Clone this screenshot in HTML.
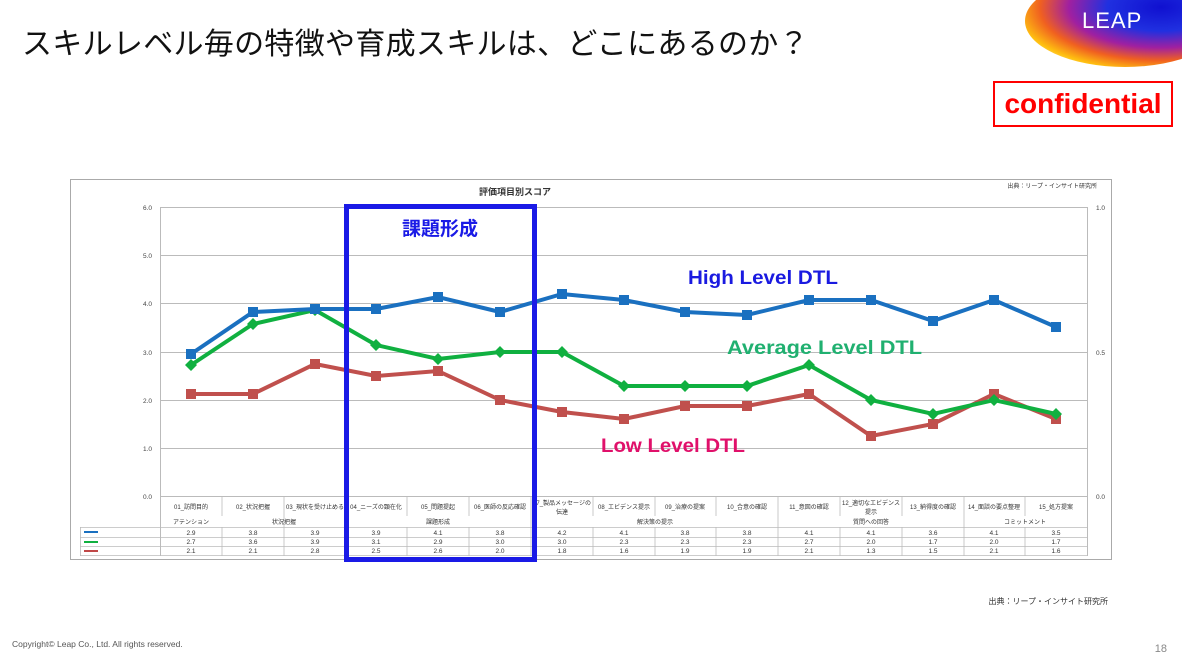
<!DOCTYPE html>
<html><head><meta charset="utf-8"><style>
body{margin:0;width:1182px;height:663px;background:#fff;overflow:hidden;position:relative;font-family:"Liberation Sans","Noto Sans CJK JP",sans-serif}
</style></head><body>
<div style="position:absolute;left:22px;top:19px;font-size:30px;color:#111;letter-spacing:0.3px;font-family:'Liberation Sans','Noto Sans CJK JP',sans-serif">スキルレベル毎の特徴や育成スキルは、どこにあるのか？</div>
<div style="position:absolute;left:1025px;top:-25px;width:200px;height:92px;border-radius:50%;background:radial-gradient(ellipse at 68% 35%,#1010d0 0%,#2030e0 28%,#a020a0 48%,#f06020 63%,#ffc010 76%,rgba(255,255,255,0) 92%)"></div>
<div style="position:absolute;left:1082px;top:8px;font-size:22px;color:#fff;letter-spacing:1px">LEAP</div>
<div style="position:absolute;left:993px;top:81px;width:180px;height:46px;border:2px solid #f00;box-sizing:border-box;color:#f00;font-weight:bold;font-size:28px;text-align:center;line-height:42px">confidential</div>
<svg style="position:absolute;left:0;top:0" width="1182" height="663" font-family="Liberation Sans, Noto Sans CJK JP, sans-serif">
<rect x="70.5" y="179.5" width="1041" height="380" fill="#fff" stroke="#aaa"/>
<text x="515" y="195" font-size="9" font-weight="bold" text-anchor="middle" fill="#333">評価項目別スコア</text>
<text x="1097" y="188" font-size="6" text-anchor="end" fill="#333">出典：リープ・インサイト研究所</text>
<g stroke="#bbb" stroke-width="1">
<line x1="160" y1="207.5" x2="1087" y2="207.5"/><line x1="160" y1="255.5" x2="1087" y2="255.5"/><line x1="160" y1="303.5" x2="1087" y2="303.5"/><line x1="160" y1="352.5" x2="1087" y2="352.5"/><line x1="160" y1="400.5" x2="1087" y2="400.5"/><line x1="160" y1="448.5" x2="1087" y2="448.5"/><line x1="160" y1="496.5" x2="1087" y2="496.5"/>
<line x1="160.5" y1="207" x2="160.5" y2="556"/><line x1="1087.5" y1="207" x2="1087.5" y2="556"/>
</g>
<g font-size="6.5" fill="#444" text-anchor="end">
<text x="152" y="210">6.0</text><text x="152" y="258">5.0</text><text x="152" y="306">4.0</text><text x="152" y="355">3.0</text><text x="152" y="403">2.0</text><text x="152" y="451">1.0</text><text x="152" y="499">0.0</text>
</g>
<g font-size="6.5" fill="#444"><text x="1096" y="210">1.0</text><text x="1096" y="355">0.5</text><text x="1096" y="499">0.0</text></g>
<g stroke="#bbb" stroke-width="0.8" fill="none">
<line x1="80" y1="527.5" x2="1087" y2="527.5"/><line x1="80" y1="537.5" x2="1087" y2="537.5"/><line x1="80" y1="546.5" x2="1087" y2="546.5"/><line x1="80" y1="555.5" x2="1087" y2="555.5"/>
<line x1="80.5" y1="527" x2="80.5" y2="556"/>
<path d="M222 497v19M284 497v30M346 497v19M407 497v19M469 497v19M531 497v30M593 497v19M655 497v19M716 497v19M778 497v30M840 497v19M902 497v19M964 497v30M1025 497v19"/>
<path d="M222 527v29M284 527v29M346 527v29M407 527v29M469 527v29M531 527v29M593 527v29M655 527v29M716 527v29M778 527v29M840 527v29M902 527v29M964 527v29M1025 527v29"/>
</g>
<g font-size="6" fill="#333" text-anchor="middle">
<text x="191" y="509">01_訪問目的</text><text x="253" y="509">02_状況把握</text><text x="315" y="509">03_現状を受け止める</text><text x="376" y="509">04_ニーズの顕在化</text><text x="438" y="509">05_問題提起</text><text x="500" y="509">06_医師の反応確認</text><text x="562" y="505">07_製品メッセージの</text><text x="562" y="514">伝達</text><text x="624" y="509">08_エビデンス提示</text><text x="685" y="509">09_治療の提案</text><text x="747" y="509">10_合意の確認</text><text x="809" y="509">11_意図の確認</text><text x="871" y="505">12_適切なエビデンス</text><text x="871" y="514">提示</text><text x="933" y="509">13_納得度の確認</text><text x="994" y="509">14_面談の要点整理</text><text x="1056" y="509">15_処方提案</text>
<text x="191" y="524">アテンション</text><text x="284" y="524">状況把握</text><text x="438" y="524">課題形成</text><text x="655" y="524">解決策の提示</text><text x="871" y="524">質問への回答</text><text x="1025" y="524">コミットメント</text>
</g>
<g font-size="6.5" fill="#333" text-anchor="middle">
<text y="535"><tspan x="191">2.9</tspan><tspan x="253">3.8</tspan><tspan x="315">3.9</tspan><tspan x="376">3.9</tspan><tspan x="438">4.1</tspan><tspan x="500">3.8</tspan><tspan x="562">4.2</tspan><tspan x="624">4.1</tspan><tspan x="685">3.8</tspan><tspan x="747">3.8</tspan><tspan x="809">4.1</tspan><tspan x="871">4.1</tspan><tspan x="933">3.6</tspan><tspan x="994">4.1</tspan><tspan x="1056">3.5</tspan></text>
<text y="544"><tspan x="191">2.7</tspan><tspan x="253">3.6</tspan><tspan x="315">3.9</tspan><tspan x="376">3.1</tspan><tspan x="438">2.9</tspan><tspan x="500">3.0</tspan><tspan x="562">3.0</tspan><tspan x="624">2.3</tspan><tspan x="685">2.3</tspan><tspan x="747">2.3</tspan><tspan x="809">2.7</tspan><tspan x="871">2.0</tspan><tspan x="933">1.7</tspan><tspan x="994">2.0</tspan><tspan x="1056">1.7</tspan></text>
<text y="553"><tspan x="191">2.1</tspan><tspan x="253">2.1</tspan><tspan x="315">2.8</tspan><tspan x="376">2.5</tspan><tspan x="438">2.6</tspan><tspan x="500">2.0</tspan><tspan x="562">1.8</tspan><tspan x="624">1.6</tspan><tspan x="685">1.9</tspan><tspan x="747">1.9</tspan><tspan x="809">2.1</tspan><tspan x="871">1.3</tspan><tspan x="933">1.5</tspan><tspan x="994">2.1</tspan><tspan x="1056">1.6</tspan></text>
</g>
<g stroke-width="2"><line x1="84" y1="532" x2="98" y2="532" stroke="#1a70c0"/><line x1="84" y1="542" x2="98" y2="542" stroke="#10b040"/><line x1="84" y1="551" x2="98" y2="551" stroke="#c04848"/></g>
<polyline fill="none" stroke="#c0504d" stroke-width="4" points="191,394 253,394 315,364 376,376 438,371 500,400 562,412 624,419 685,406 747,406 809,394 871,436 933,424 994,394 1056,419"/>
<g fill="#c0504d"><rect x="186" y="389" width="10" height="10"/><rect x="248" y="389" width="10" height="10"/><rect x="310" y="359" width="10" height="10"/><rect x="371" y="371" width="10" height="10"/><rect x="433" y="366" width="10" height="10"/><rect x="495" y="395" width="10" height="10"/><rect x="557" y="407" width="10" height="10"/><rect x="619" y="414" width="10" height="10"/><rect x="680" y="401" width="10" height="10"/><rect x="742" y="401" width="10" height="10"/><rect x="804" y="389" width="10" height="10"/><rect x="866" y="431" width="10" height="10"/><rect x="928" y="419" width="10" height="10"/><rect x="989" y="389" width="10" height="10"/><rect x="1051" y="414" width="10" height="10"/></g>
<polyline fill="none" stroke="#10b040" stroke-width="4" points="191,365 253,324 315,310 376,345 438,359 500,352 562,352 624,386 685,386 747,386 809,365 871,400 933,414 994,400 1056,414"/>
<g fill="#10b040"><path d="M191 359l6 6-6 6-6-6zM253 318l6 6-6 6-6-6zM315 304l6 6-6 6-6-6zM376 339l6 6-6 6-6-6zM438 353l6 6-6 6-6-6zM500 346l6 6-6 6-6-6zM562 346l6 6-6 6-6-6zM624 380l6 6-6 6-6-6zM685 380l6 6-6 6-6-6zM747 380l6 6-6 6-6-6zM809 359l6 6-6 6-6-6zM871 394l6 6-6 6-6-6zM933 408l6 6-6 6-6-6zM994 394l6 6-6 6-6-6zM1056 408l6 6-6 6-6-6z"/></g>
<polyline fill="none" stroke="#1a70c0" stroke-width="4" points="191,354 253,312 315,309 376,309 438,297 500,312 562,294 624,300 685,312 747,315 809,300 871,300 933,321 994,300 1056,327"/>
<g fill="#1a70c0"><rect x="186" y="349" width="10" height="10"/><rect x="248" y="307" width="10" height="10"/><rect x="310" y="304" width="10" height="10"/><rect x="371" y="304" width="10" height="10"/><rect x="433" y="292" width="10" height="10"/><rect x="495" y="307" width="10" height="10"/><rect x="557" y="289" width="10" height="10"/><rect x="619" y="295" width="10" height="10"/><rect x="680" y="307" width="10" height="10"/><rect x="742" y="310" width="10" height="10"/><rect x="804" y="295" width="10" height="10"/><rect x="866" y="295" width="10" height="10"/><rect x="928" y="316" width="10" height="10"/><rect x="989" y="295" width="10" height="10"/><rect x="1051" y="322" width="10" height="10"/></g>
<text x="688" y="284" font-size="19" font-weight="bold" fill="#1a1ae0" textLength="150" lengthAdjust="spacingAndGlyphs">High Level DTL</text>
<text x="727" y="354" font-size="19" font-weight="bold" fill="#20b070" textLength="195" lengthAdjust="spacingAndGlyphs">Average Level DTL</text>
<text x="601" y="452" font-size="19" font-weight="bold" fill="#e0106a" textLength="144" lengthAdjust="spacingAndGlyphs">Low Level DTL</text>
<rect x="346.5" y="206.5" width="188" height="353" fill="none" stroke="#1a1ae6" stroke-width="5"/>
<text x="440" y="235" font-size="19" font-weight="bold" fill="#1a1ae6" text-anchor="middle">課題形成</text>
<text x="1108" y="604" font-size="8" fill="#333" text-anchor="end">出典：リープ・インサイト研究所</text>
<text x="12" y="647" font-size="8.5" fill="#555">Copyright© Leap Co., Ltd.  All rights reserved.</text>
<text x="1167" y="652" font-size="11" fill="#888" text-anchor="end">18</text>
</svg>
</body></html>
